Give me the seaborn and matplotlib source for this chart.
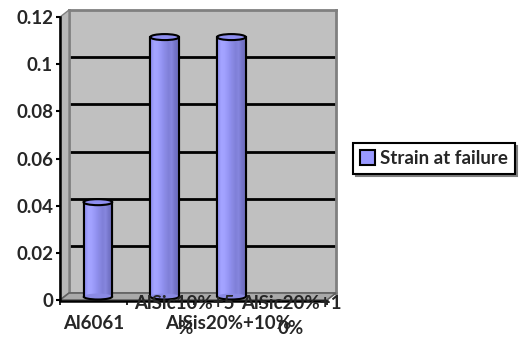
import numpy as np
import pandas as pd
import matplotlib
matplotlib.use("Agg")
import matplotlib.pyplot as plt
import matplotlib.transforms as mtransforms
from matplotlib.patches import Ellipse, Arc, Polygon
from matplotlib.colors import to_rgb
import seaborn as sns

# ---- data ----
materials = ["Al6061", "AlSic10%+5%", "AlSis20%+10%", "AlSic20%+10%"]
strain = [0.04, 0.11, 0.11, 0.0]
series_name = "Strain at failure"
tick_labels = ["Al6061", "AlSic10%+5\n%", "AlSis20%+10%", "AlSic20%+1\n0%"]
yticks = [0, 0.02, 0.04, 0.06, 0.08, 0.1, 0.12]
ytick_text = ["0", "0.02", "0.04", "0.06", "0.08", "0.1", "0.12"]

# ---- layout / style ----
W, H = 528, 339
WALL = "#C0C0C0"
FLOOR = "#A9A9A9"
BAR = "#9999FF"
DEPTH = (9, 7)          # 3-D depth offset in pixels (right, up)
FS = 13.5

sns.set_theme(style="white")
plt.rcParams["font.family"] = ["Lato", "DejaVu Sans"]
plt.rcParams["font.weight"] = "bold"

fig = plt.figure(figsize=(W / 100, H / 100), dpi=100)
fig.patch.set_facecolor("white")


def rect(x, y, w, h):
    return [x / W, 1 - (y + h) / H, w / W, h / H]


def fpt(x, y):
    return (x / W, 1 - y / H)


fx, fy, pw, ph = 60, 17, 267, 283        # front plane: left, top, width, height

# back wall with gridlines
ax_wall = fig.add_axes(rect(fx + DEPTH[0], fy - DEPTH[1], pw, ph))
ax_wall.set_facecolor(WALL)
ax_wall.set_ylim(0, 0.12)
ax_wall.set_xlim(0, 1)
ax_wall.set_yticks(yticks[1:-1])
ax_wall.set_xticks([])
ax_wall.tick_params(left=False, labelleft=False)
ax_wall.grid(axis="y", color="black", lw=2)
for s in ax_wall.spines.values():
    s.set_color("#808080")
    s.set_linewidth(2)
ax_wall.set_zorder(0)

# floor and side panel
floor = Polygon([fpt(fx, fy + ph), fpt(fx + DEPTH[0], fy + ph - DEPTH[1]),
                 fpt(fx + pw + DEPTH[0], fy + ph - DEPTH[1]), fpt(fx + pw, fy + ph)],
                closed=True, transform=fig.transFigure, fc=FLOOR, ec="#606060", lw=1.2, zorder=1)
side = Polygon([fpt(fx, fy), fpt(fx + DEPTH[0], fy - DEPTH[1]),
                fpt(fx + DEPTH[0], fy + ph - DEPTH[1]), fpt(fx, fy + ph)],
               closed=True, transform=fig.transFigure, fc="#B8B8B8", ec="#808080", lw=1, zorder=1)
fig.add_artist(side)
fig.add_artist(floor)

# bars, drawn half-way into the depth
ax_bars = fig.add_axes(rect(fx + DEPTH[0] / 2, fy - DEPTH[1] / 2, pw, ph))
ax_bars.set_zorder(2)
ax_bars.patch.set_alpha(0)
df = pd.DataFrame({"material": materials, "strain": strain})
sns.barplot(data=df, x="material", y="strain", ax=ax_bars, width=0.43,
            color=BAR, saturation=1, edgecolor="black", linewidth=1.5,
            label=series_name)
ax_bars.set_xlim(-0.5, len(materials) - 0.5)
ax_bars.set_ylim(0, 0.12)
ax_bars.axis("off")

ell_h = 6 / ph * 0.12
grad = np.array([to_rgb(c) for c in
                 ["#9090F2", "#A4A4FF", "#A2A2FF", "#9A9AF8", "#9090EE",
                  "#8888E2", "#8080D8", "#8686DE", "#7676CA", "#6E6EBE"]])
for p in ax_bars.patches:
    x0, w, h = p.get_x(), p.get_width(), p.get_height()
    if h <= 0:
        p.set_visible(False)
        continue
    cx = x0 + w / 2
    im = ax_bars.imshow(grad[None, :, :], extent=(x0, x0 + w, 0, h),
                        aspect="auto", zorder=1.5, interpolation="bilinear")
    im.set_clip_path(p)
    ax_bars.add_patch(Ellipse((cx, 0), w, ell_h, fc="#8A8AE4", ec="none",
                              zorder=2, clip_on=False))
    ax_bars.add_patch(Arc((cx, 0), w, ell_h, theta1=180, theta2=360,
                          color="black", lw=1.5, zorder=3, clip_on=False))
    ax_bars.plot([x0, x0], [0, h], color="black", lw=1.5, zorder=3,
                 solid_capstyle="butt", clip_on=False)
    ax_bars.plot([x0 + w, x0 + w], [0, h], color="black", lw=1.5, zorder=3,
                 solid_capstyle="butt", clip_on=False)
    ax_bars.add_patch(Ellipse((cx, h), w, ell_h, fc="#8E8EF0", ec="black",
                              lw=1.5, zorder=4, clip_on=False))

# front axes: value axis and category axis
ax_front = fig.add_axes(rect(fx, fy, pw, ph))
ax_front.set_zorder(3)
ax_front.patch.set_alpha(0)
ax_front.set_ylim(0, 0.12)
ax_front.set_xlim(-0.5, len(materials) - 0.5)
ax_front.set_yticks(yticks)
ax_front.set_yticklabels(ytick_text, fontsize=FS, fontweight="bold")
ax_front.set_xticks(np.arange(-0.5, len(materials) + 0.5, 1.0))
ax_front.set_xticklabels([])
ax_front.tick_params(axis="y", direction="out", length=3, width=1.5,
                     color="black", pad=2, left=True)
ax_front.tick_params(axis="x", direction="out", length=3, width=1.2,
                     color="black", bottom=True)
for k in ["top", "right"]:
    ax_front.spines[k].set_visible(False)
ax_front.spines["left"].set_color("black")
ax_front.spines["left"].set_linewidth(1.8)
ax_front.spines["bottom"].set_color("black")
ax_front.spines["bottom"].set_linewidth(1.8)
ax_front.spines["bottom"].set_position(("outward", 1))

# staggered category labels
label_shift = [0, 0.37, 0.02, -0.04]
label_row = [1, 0, 1, 0]
row_top = [(fy + ph - 295) / ph, (fy + ph - 315) / ph]
trans = mtransforms.blended_transform_factory(ax_front.transData, ax_front.transAxes)
for i, lab in enumerate(tick_labels):
    ax_front.text(i + label_shift[i], row_top[label_row[i]], lab, transform=trans,
                  ha="center", va="top", fontsize=FS, fontweight="bold",
                  linespacing=1.55, clip_on=False)

# legend
leg = ax_bars.legend(loc="center left", bbox_to_anchor=(353 / W, 1 - 158.5 / H),
                     bbox_transform=fig.transFigure, frameon=True, fancybox=False,
                     shadow={"color": "#808080", "alpha": 1}, borderpad=0.35,
                     handlelength=0.8, handleheight=0.8, handletextpad=0.3,
                     prop={"size": FS, "weight": "bold"}, borderaxespad=0)
leg.get_frame().set_edgecolor("black")
leg.get_frame().set_linewidth(1.5)

fig.savefig("out.png", dpi=100)
